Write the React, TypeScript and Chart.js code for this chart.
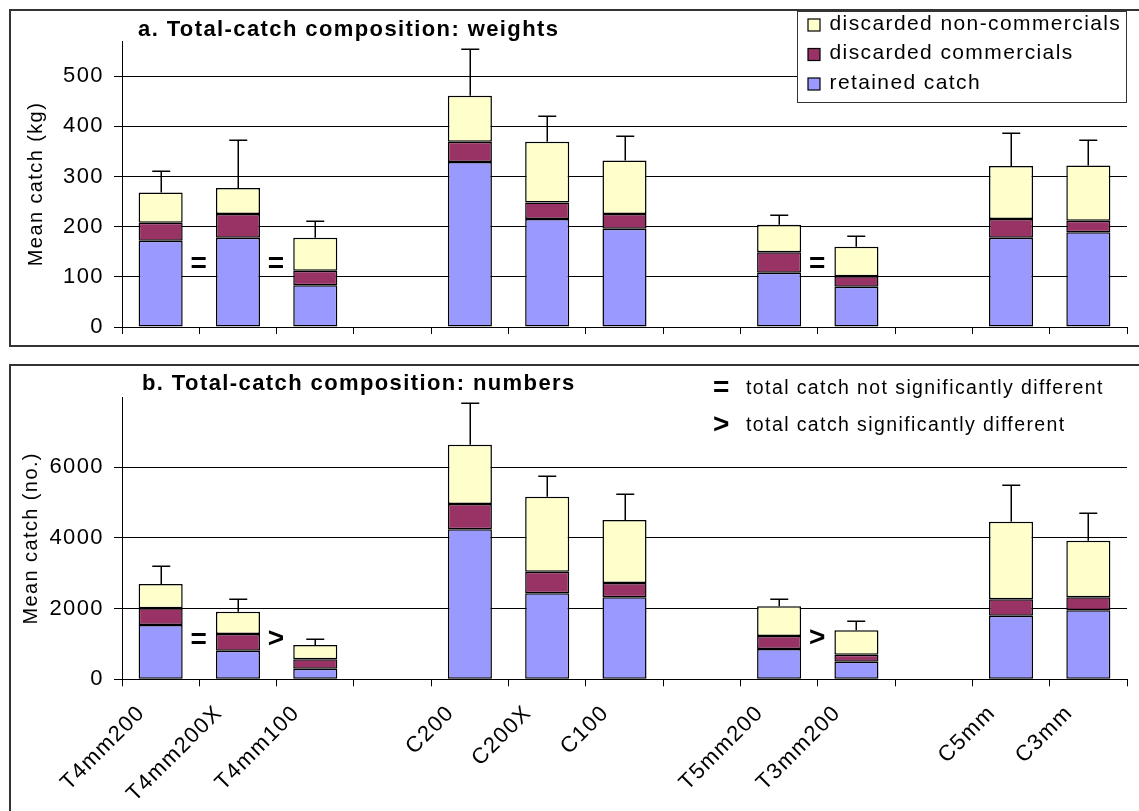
import React, { useEffect, useRef } from 'react';
import { Chart, registerables } from 'chart.js';

Chart.register(...registerables);

const FONT = '"Liberation Sans", Arial, Helvetica, sans-serif';
Chart.defaults.font.family = FONT;
Chart.defaults.color = '#000';

// ---------- data ----------
const categories = ['T4mm200', 'T4mm200X', 'T4mm100', '', 'C200', 'C200X', 'C100', '', 'T5mm200', 'T3mm200', '', 'C5mm', 'C3mm'];

const seriesLabels = ['retained catch', 'discarded commercials', 'discarded non-commercials'];
const seriesColors = ['#9999FF', '#993366', '#FFFFCC'];

// a. weights (kg)
const weightRetained = [172, 178, 83, null, 329, 215, 196, null, 108, 80, null, 178, 189];
const weightDiscardedCommercial = [36, 47, 29, null, 40, 33, 29, null, 41, 21, null, 37, 23];
const weightDiscardedNonCommercial = [60, 52, 66, null, 92, 121, 107, null, 55, 59, null, 106, 110];
const weightErrorTop = [311, 372, 211, null, 555, 420, 380, null, 223, 182, null, 387, 372];

// b. numbers
const numberRetained = [1536, 810, 301, null, 4243, 2433, 2320, null, 857, 498, null, 1800, 1952];
const numberDiscardedCommercial = [472, 471, 264, null, 716, 611, 404, null, 368, 198, null, 463, 368];
const numberDiscardedNonCommercial = [688, 632, 405, null, 1678, 2122, 1783, null, 840, 690, null, 2196, 1601];
const numberErrorTop = [3214, 2272, 1131, null, 7825, 5751, 5242, null, 2272, 1649, null, 5497, 4713];

// y-axis ranges / tick labels
const weightAxisMax = 570;
const weightTickValues = [0, 100, 200, 300, 400, 500];
const numberAxisMax = 7980;
const numberTickValues = [0, 2000, 4000, 6000];

// significance markers (between category i and i+1)
const weightMarkerAfter = [0, 1, 8];
const weightMarkerSymbols = ['=', '=', '='];
const weightMarkerLevels = [125, 125, 125];
const numberMarkerAfter = [0, 1, 8];
const numberMarkerSymbols = ['=', '>', '>'];
const numberMarkerLevels = [1110, 1140, 1170];

const significanceSymbols = ['=', '>'];
const significanceTexts = ['total catch not significantly different', 'total catch significantly different'];

type Num = number | null;
type PanelSpec = {
  series: Num[][];
  errorTop: Num[];
  yMax: number;
  yTicks: number[];
  yTitle: string;
  yTitlePad: number;
  title: string;
  titleX: number;
  titleY: number;
  markerAfter: number[];
  markerSymbols: string[];
  markerLevels: number[];
  showLabels: boolean;
  width: number;
  height: number;
  top: number;
  padTop: number;
  xAxisHeight: number;
  legend: 'series' | 'significance';
};

const topSpec: PanelSpec = {
  series: [weightRetained, weightDiscardedCommercial, weightDiscardedNonCommercial],
  errorTop: weightErrorTop,
  yMax: weightAxisMax,
  yTicks: weightTickValues,
  yTitle: 'Mean catch (kg)',
  yTitlePad: 16,
  title: 'a. Total-catch composition: weights',
  titleX: 130,
  titleY: 22,
  markerAfter: weightMarkerAfter,
  markerSymbols: weightMarkerSymbols,
  markerLevels: weightMarkerLevels,
  showLabels: false,
  width: 1131,
  height: 345,
  top: 8,
  padTop: 33,
  xAxisHeight: 26,
  legend: 'series',
};

const bottomSpec: PanelSpec = {
  series: [numberRetained, numberDiscardedCommercial, numberDiscardedNonCommercial],
  errorTop: numberErrorTop,
  yMax: numberAxisMax,
  yTicks: numberTickValues,
  yTitle: 'Mean catch (no.)',
  yTitlePad: 11,
  title: 'b. Total-catch composition: numbers',
  titleX: 134,
  titleY: 23.5,
  markerAfter: numberMarkerAfter,
  markerSymbols: numberMarkerSymbols,
  markerLevels: numberMarkerLevels,
  showLabels: true,
  width: 1131,
  height: 451,
  top: 360,
  padTop: 37.3,
  xAxisHeight: 131.7,
  legend: 'significance',
};

function overlayPlugin(spec: PanelSpec) {
  return {
    id: 'overlay',
    beforeDraw(chart: any) {
      chart.ctx.letterSpacing = '1.4px';
    },
    afterDatasetsDraw(chart: any) {
      const ctx = chart.ctx;
      const xs = chart.scales.x;
      const ys = chart.scales.y;
      ctx.save();
      ctx.strokeStyle = '#000';
      ctx.lineWidth = 1.5;
      spec.errorTop.forEach((e, i) => {
        if (e == null) return;
        const total = spec.series.reduce((s, arr) => s + (arr[i] ?? 0), 0);
        const px = Math.round(xs.getPixelForValue(i)) + 0.25;
        const y0 = ys.getPixelForValue(total);
        const y1 = Math.round(ys.getPixelForValue(e)) + 0.25;
        ctx.beginPath();
        ctx.moveTo(px, y0);
        ctx.lineTo(px, y1);
        ctx.moveTo(px - 9, y1);
        ctx.lineTo(px + 9, y1);
        ctx.stroke();
      });
      ctx.fillStyle = '#000';
      ctx.font = `bold 28px ${FONT}`;
      ctx.textAlign = 'center';
      ctx.textBaseline = 'middle';
      spec.markerAfter.forEach((i, k) => {
        const px = (xs.getPixelForValue(i) + xs.getPixelForValue(i + 1)) / 2;
        ctx.fillText(spec.markerSymbols[k], px, ys.getPixelForValue(spec.markerLevels[k]));
      });
      ctx.restore();
    },
    afterDraw(chart: any) {
      const ctx = chart.ctx;
      ctx.save();
      ctx.fillStyle = '#000';
      ctx.textBaseline = 'middle';
      ctx.textAlign = 'left';
      ctx.font = `bold 22px ${FONT}`;
      ctx.fillText(spec.title, spec.titleX, spec.titleY);

      if (spec.legend === 'series') {
        const L = 789, T = 3, R = 1119, B = 95;
        ctx.fillStyle = '#fff';
        ctx.fillRect(L, T, R - L, B - T);
        ctx.strokeStyle = '#333';
        ctx.lineWidth = 1;
        ctx.strokeRect(L + 0.5, T + 0.5, R - L - 1, B - T - 1);
        const order = [2, 1, 0];
        const rowY = [17, 46.5, 76];
        ctx.font = `21px ${FONT}`;
        order.forEach((k, r) => {
          const ds = chart.data.datasets[k];
          const cy = rowY[r];
          ctx.fillStyle = ds.backgroundColor;
          ctx.fillRect(800, cy - 6, 12, 12);
          ctx.strokeStyle = '#000';
          ctx.lineWidth = 1.2;
          ctx.strokeRect(800, cy - 6, 12, 12);
          ctx.fillStyle = '#000';
          ctx.fillText(ds.label, 821.5, cy - 1);
        });
      } else {
        const rowY = [28.3, 65.5];
        significanceSymbols.forEach((sym, r) => {
          ctx.font = `bold 28px ${FONT}`;
          ctx.textAlign = 'center';
          ctx.fillText(sym, 714, rowY[r]);
          ctx.font = `19.5px ${FONT}`;
          ctx.textAlign = 'left';
          ctx.fillText(significanceTexts[r], 738, rowY[r]);
        });
      }
      ctx.restore();
    },
  };
}

function ChartPanel({ spec }: { spec: PanelSpec }) {
  const ref = useRef<HTMLCanvasElement>(null);
  useEffect(() => {
    const canvas = ref.current;
    if (!canvas) return;
    const chart = new Chart(canvas, {
      type: 'bar',
      data: {
        labels: categories,
        datasets: seriesLabels.map((label, k) => ({
          label,
          data: spec.series[k] as any,
          backgroundColor: seriesColors[k],
          borderColor: '#000',
          borderWidth: 1.5,
          borderSkipped: false,
          barPercentage: 0.57,
          categoryPercentage: 1,
        })),
      },
      options: {
        responsive: false,
        animation: false,
        events: [],
        layout: { padding: { left: 0, right: 12, top: spec.padTop, bottom: 0 } },
        plugins: {
          legend: { display: false },
          tooltip: { enabled: false },
          title: { display: false },
        },
        scales: {
          x: {
            stacked: true,
            offset: true,
            afterFit: (s: any) => {
              s.height = spec.xAxisHeight;
            },
            border: { display: true, color: '#000', width: 1 },
            grid: { offset: true, drawOnChartArea: false, drawTicks: true, tickLength: 7, color: '#000', lineWidth: 1 },
            ticks: {
              display: spec.showLabels,
              autoSkip: false,
              maxRotation: 45,
              minRotation: 45,
              color: '#000',
              padding: 14,
              labelOffset: -19,
              font: { size: 22 },
            },
          },
          y: {
            stacked: true,
            min: 0,
            max: spec.yMax,
            afterFit: (s: any) => {
              s.width = 114;
            },
            afterBuildTicks: (s: any) => {
              s.ticks = spec.yTicks.map((v) => ({ value: v }));
            },
            border: { display: true, color: '#000', width: 1 },
            grid: { color: '#000', lineWidth: 1, tickLength: 8, drawTicks: true },
            ticks: {
              color: '#000',
              padding: 10,
              font: { size: 22 },
              callback: (v: any) => String(v),
            },
            title: {
              display: true,
              text: spec.yTitle,
              color: '#000',
              font: { size: 20 },
              padding: { top: spec.yTitlePad, bottom: 0 },
            },
          },
        },
      } as any,
      plugins: [overlayPlugin(spec) as any],
    });
    return () => chart.destroy();
  }, [spec]);
  return (
    <canvas
      ref={ref}
      width={spec.width}
      height={spec.height}
      style={{ position: 'absolute', left: 8, top: spec.top, width: spec.width, height: spec.height }}
    />
  );
}

export default function App() {
  return (
    <div
      style={{
        position: 'fixed',
        left: 0,
        top: 0,
        width: 1139,
        height: 811,
        overflow: 'hidden',
        background: '#fff',
      }}
    >
      <div
        style={{
          position: 'absolute',
          left: 9,
          top: 9,
          width: 1140,
          height: 338,
          border: '2px solid #333',
          boxSizing: 'border-box',
        }}
      />
      <div
        style={{
          position: 'absolute',
          left: 9,
          top: 364,
          width: 1140,
          height: 500,
          border: '2px solid #333',
          boxSizing: 'border-box',
        }}
      />
      <ChartPanel spec={topSpec} />
      <ChartPanel spec={bottomSpec} />
    </div>
  );
}
